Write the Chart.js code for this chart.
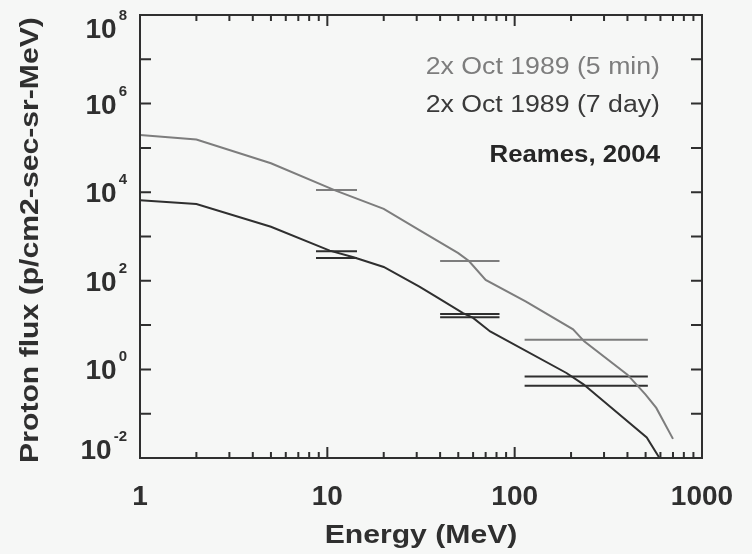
<!DOCTYPE html>
<html>
<head>
<meta charset="utf-8">
<script src="https://cdn.jsdelivr.net/npm/chart.js@4.4.1/dist/chart.umd.min.js"></script>
<style>
  html, body { margin: 0; padding: 0; background: #f6f7f6; }
  #contenedor { width: 752px; height: 554px; }
</style>
</head>
<body>
<div id="contenedor"><canvas id="grafico" width="752" height="554"></canvas></div>
<script>
// 2x Oct 1989 (5 min)
const energia5min = [1, 2, 5, 11, 20, 31, 50, 57, 70, 115, 205, 235, 400, 500, 570, 700];
const flujo5min = [1.95e5, 1.55e5, 4.5e4, 1.1e4, 4.2e3, 1.4e3, 420, 280, 105, 34, 8, 4.3, 0.76, 0.27, 0.135, 0.027];

// 2x Oct 1989 (7 day)
const energia7dias = [1, 2, 5, 10.3, 13.8, 20, 31, 38, 53, 60, 74, 189, 233, 507, 585, 610];
const flujo7dias = [6600, 5400, 1660, 480, 340, 205, 74, 44, 18.6, 14.5, 7.2, 0.83, 0.46, 0.029, 0.011, 0.008];

// barras horizontales: rangos de energia y flujos
const rangoBajo = [8.7, 40, 113];
const rangoAlto = [14.4, 83, 514];
const barras5min = [1.12e4, 280, 4.7];
const barras7diasA = [466, 17.7, 0.69];
const barras7diasB = [329, 15, 0.43];

const ticksX = [1, 10, 100, 1000];
const etiquetasX = ["1", "10", "100", "1000"];
const ticksY = [1e-2, 1e0, 1e2, 1e4, 1e6, 1e8];
const exponentesY = ["-2", "0", "2", "4", "6", "8"];

const leyenda = ["2x Oct 1989 (5 min)", "2x Oct 1989 (7 day)", "Reames, 2004"];

const GRIS = "#7d7d7d";
const OSCURO = "#2f2f2f";
const FUENTE = "'Liberation Sans', Arial, Helvetica, sans-serif";

function puntos(xs, ys) {
  return xs.map((x, i) => ({ x, y: ys[i] }));
}

function linea(data, color) {
  return {
    data,
    borderColor: color,
    borderWidth: 2,
    pointRadius: 0,
    fill: false,
    tension: 0
  };
}

const datasets = [
  linea(puntos(energia5min, flujo5min), GRIS),
  linea(puntos(energia7dias, flujo7dias), OSCURO)
];

rangoBajo.forEach((e0, i) => {
  const e1 = rangoAlto[i];
  datasets.push(linea(puntos([e0, e1], [barras5min[i], barras5min[i]]), GRIS));
  datasets.push(linea(puntos([e0, e1], [barras7diasA[i], barras7diasA[i]]), OSCURO));
  datasets.push(linea(puntos([e0, e1], [barras7diasB[i], barras7diasB[i]]), OSCURO));
});

function texto(ctx, t, x, y, o) {
  ctx.save();
  ctx.translate(x, y);
  if (o.rot) ctx.rotate(o.rot);
  ctx.scale(o.sx || 1, 1);
  ctx.font = o.font;
  ctx.fillStyle = o.color || OSCURO;
  ctx.textAlign = o.align || "center";
  ctx.textBaseline = "alphabetic";
  ctx.fillText(t, 0, 0);
  ctx.restore();
}

// marco, ticks hacia adentro, etiquetas y textos
const marco = {
  id: "marco",
  afterDraw(chart) {
    const { ctx, chartArea: a, scales } = chart;
    const sx = scales.x, sy = scales.y;
    ctx.save();
    ctx.strokeStyle = OSCURO;
    ctx.lineWidth = 2;
    ctx.strokeRect(a.left, a.top, a.right - a.left, a.bottom - a.top);

    ctx.beginPath();
    for (let d = -2; d <= 8; d++) {
      const y = sy.getPixelForValue(Math.pow(10, d));
      ctx.moveTo(a.left, y); ctx.lineTo(a.left + 11, y);
      ctx.moveTo(a.right, y); ctx.lineTo(a.right - 11, y);
    }
    for (let d = 0; d < 3; d++) {
      for (let m = 1; m <= 9; m++) {
        const x = sx.getPixelForValue(m * Math.pow(10, d));
        const largo = m === 1 ? 11 : 6;
        ctx.moveTo(x, a.bottom); ctx.lineTo(x, a.bottom - largo);
        ctx.moveTo(x, a.top); ctx.lineTo(x, a.top + largo);
      }
    }
    ctx.stroke();
    ctx.restore();

    // etiquetas eje x
    ticksX.forEach((v, i) => {
      texto(ctx, etiquetasX[i], sx.getPixelForValue(v), 505, { font: "bold 28px " + FUENTE });
    });

    // etiquetas eje y (10 con exponente)
    const derecha = 127;
    ticksY.forEach((v, i) => {
      const centro = Math.min(Math.max(sy.getPixelForValue(v), 27.5), 448.5);
      const base = centro + 10;
      ctx.font = "bold 15px " + FUENTE;
      const anchoExp = ctx.measureText(exponentesY[i]).width;
      texto(ctx, exponentesY[i], derecha - anchoExp, base - 18, { font: "bold 15px " + FUENTE, align: "left" });
      texto(ctx, "10", derecha - anchoExp - 2, base, { font: "bold 28px " + FUENTE, align: "right" });
    });

    // titulos de ejes
    texto(ctx, "Energy (MeV)", (a.left + a.right) / 2, 543, { font: "bold 26px " + FUENTE, sx: 1.16 });
    texto(ctx, "Proton flux (p/cm2-sec-sr-MeV)", 38, 240, { font: "bold 26px " + FUENTE, sx: 1.16, rot: -Math.PI / 2 });

    // leyenda
    texto(ctx, leyenda[0], 660, 74, { font: "23px " + FUENTE, sx: 1.16, align: "right", color: GRIS });
    texto(ctx, leyenda[1], 660, 112, { font: "23px " + FUENTE, sx: 1.16, align: "right", color: "#3a3a3a" });
    texto(ctx, leyenda[2], 660, 162, { font: "bold 23px " + FUENTE, sx: 1.12, align: "right", color: "#262626" });
  }
};

const chart = new Chart(document.getElementById("grafico").getContext("2d"), {
  type: "line",
  data: { datasets },
  options: {
    responsive: false,
    animation: false,
    layout: { padding: { left: 140, right: 50, top: 15, bottom: 96 } },
    plugins: {
      legend: { display: false },
      tooltip: { enabled: false }
    },
    scales: {
      x: { type: "logarithmic", min: 1, max: 1000, display: false },
      y: { type: "logarithmic", min: 1e-2, max: 1e8, display: false }
    }
  },
  plugins: [marco]
});
</script>
</body>
</html>
